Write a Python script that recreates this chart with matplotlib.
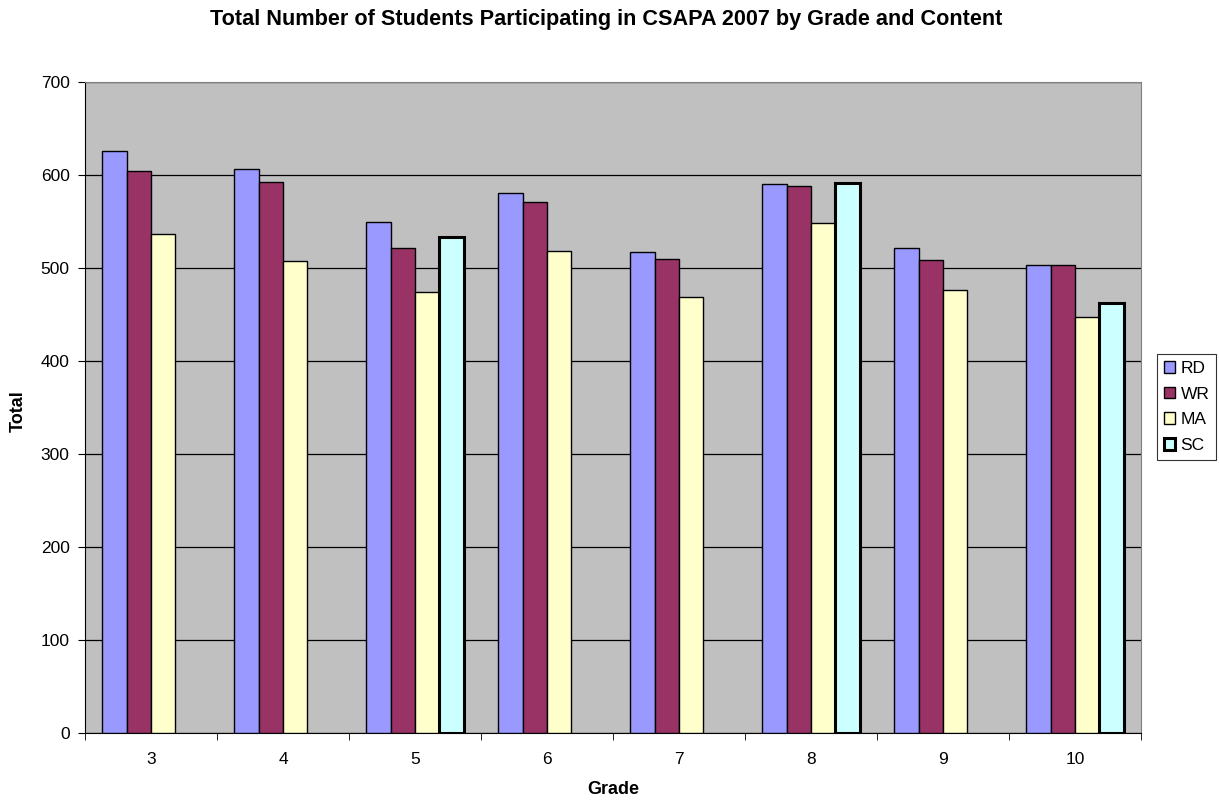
import numpy as np
import matplotlib.pyplot as plt
from matplotlib.patches import Patch

plt.rcParams['font.family'] = ['Liberation Sans', 'DejaVu Sans']

# Data: students tested per grade and content area
grades = ['3', '4', '5', '6', '7', '8', '9', '10']
rd = [626, 606, 549, 581, 517, 590, 521, 503]
wr = [604, 593, 521, 571, 510, 588, 509, 503]
ma = [537, 508, 474, 518, 469, 548, 476, 447]
sc = [None, None, 533, None, None, 591, None, 462]  # science only in grades 5, 8, 10

series = ['RD', 'WR', 'MA', 'SC']
colors = ['#9999FF', '#993366', '#FFFFCC', '#CCFFFF']

fig = plt.figure(figsize=(12.19, 8.01), dpi=100)
ax = fig.add_axes([85/1219, 1 - 733/801, (1141-85)/1219, (733-82)/801])
ax.set_facecolor('#C0C0C0')

x = np.arange(len(grades))
w = 0.184
values = [rd, wr, ma, sc]
for i, (vals, col) in enumerate(zip(values, colors)):
    xs = [x[j] + (i - 1.5) * w for j in range(len(grades)) if vals[j] is not None]
    ys = [v for v in vals if v is not None]
    lw = 2.2 if series[i] == 'SC' else 1.0
    ax.bar(xs, ys, width=w, color=col, edgecolor='black', linewidth=lw, zorder=3)

ax.set_xlim(-0.5, len(grades) - 0.5)
ax.set_ylim(0, 700)
ax.set_yticks(range(0, 701, 100))
ax.yaxis.grid(True, color='black', linewidth=0.9, zorder=1)
ax.set_axisbelow(True)

# labels centered under each group, tick marks between groups
ax.set_xticks(x)
ax.set_xticklabels(grades)
ax.tick_params(axis='x', which='major', length=0, pad=14, labelsize=12.5)
ax.set_xticks(np.arange(-0.5, len(grades)), minor=True)
ax.tick_params(axis='x', which='minor', length=5, direction='out')
ax.tick_params(axis='y', length=5, direction='out', labelsize=12.5, pad=6)

for s in ['top', 'right']:
    ax.spines[s].set_color('#808080')
for s in ['left', 'bottom']:
    ax.spines[s].set_color('black')

ax.set_xlabel('Grade', fontweight='bold', fontsize=13)
ax.xaxis.set_label_coords(0.5, -(790 - 733) / 651)
ax.xaxis.label.set_verticalalignment('center')
ax.set_ylabel('Total', fontweight='bold', fontsize=13)
ax.yaxis.set_label_coords(-(85 - 18) / 1056, 0.495)
ax.yaxis.label.set_verticalalignment('center')

fig.suptitle('Total Number of Students Participating in CSAPA 2007 by Grade and Content',
             fontweight='bold', fontsize=15.6, x=606/1219, y=1 - 19/801, va='center')

handles = [Patch(facecolor=c, edgecolor='black', linewidth=2.2 if s == 'SC' else 1.0, label=s)
           for s, c in zip(series, colors)]
leg = fig.legend(handles=handles, loc='center left', bbox_to_anchor=(1157/1219, 1 - 407/801),
                 frameon=True, fancybox=False, edgecolor='black', fontsize=12.5,
                 handlelength=0.65, handleheight=0.65, handletextpad=0.3,
                 labelspacing=0.62, borderpad=0.4, borderaxespad=0)
leg.get_frame().set_linewidth(0.8)

fig.savefig('out.png', dpi=100, facecolor='white')
